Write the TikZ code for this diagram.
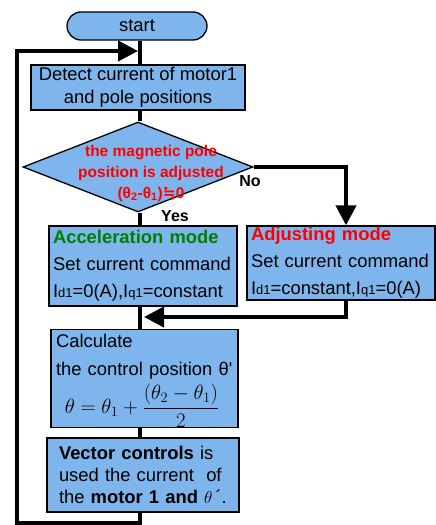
\documentclass[tikz,border=0pt]{standalone}
\usepackage{fontspec}
\setmainfont{Liberation Sans}
\newfontfamily\dejavu{DejaVu Sans}
\usetikzlibrary{shapes.geometric,arrows.meta,calc}
\definecolor{boxblue}{RGB}{126,181,236}
\definecolor{modegreen}{RGB}{0,128,0}
\newcommand{\ix}[1]{{\fontsize{13}{13}\selectfont #1}}

\begin{document}
\begin{tikzpicture}[x=1pt, y=-1pt,
  box/.style={draw, fill=boxblue, line width=1.3pt, inner sep=0pt, font=\fontsize{18.4}{23}\selectfont},
  flow/.style={line width=4pt},
  tip/.style={-{Triangle[length=20pt,width=20pt]}},
  lbl/.style={font=\fontsize{16}{16}\selectfont\bfseries}]

\useasboundingbox (0,0) rectangle (436,525);

\coordinate (spine) at (140,0);
\coordinate (entry) at (138,51);
\coordinate (merge) at (144,317);
\coordinate (loopcorner) at (17,523);

\node[box, rounded corners=14pt, minimum width=140pt, minimum height=28pt] (start) at (137,26) {start};
\node[box, minimum width=214pt, minimum height=45pt, align=center] (detect) at (138,87.5)
  {Detect current of motor1\\and pole positions};

\node[diamond, draw, fill=boxblue, line width=1.3pt, minimum width=230pt, minimum height=90pt, inner sep=0pt] (dec) at (138,167) {};
\node[font=\fontsize{15.5}{21}\selectfont\bfseries, text=red, align=center] (dectxt) at (151,173)
  {the magnetic pole\\position is adjusted\\(θ\textsubscript{2}-θ\textsubscript{1}){\dejavu ≒}0};

\node[box, minimum width=188pt, minimum height=80pt, text width=180pt, align=left, font=\fontsize{18.4}{27}\selectfont] (acc) at (143,266)
  {\textcolor{modegreen}{\bfseries Acceleration mode}\\Set current command\\I\ix{d1}=0(A),I\ix{q1}=constant};
\node[box, minimum width=188pt, minimum height=74pt, text width=180pt, align=left, font=\fontsize{18.4}{27}\selectfont] (adj) at (341,263)
  {\textcolor{red}{\bfseries Adjusting mode}\\Set current command\\I\ix{d1}=constant,I\ix{q1}=0(A)};

\node[box, minimum width=187pt, minimum height=97pt, text width=185pt, align=left, font=\fontsize{18.4}{28}\selectfont] (calc) at (144.5,378.5)
  {\rule{0pt}{18pt}\hspace*{4pt}Calculate\\\hspace*{4pt}the control position θ\textquotesingle\\[3pt]
   \hspace*{13pt}{\fontsize{20}{28}\selectfont$\displaystyle\theta=\theta_1+\frac{(\theta_2-\theta_1)}{2}$}};
\node[box, minimum width=192pt, minimum height=74pt, text width=168pt, align=left, font=\fontsize{18.4}{22}\selectfont] (vec) at (143,475)
  {\textbf{Vector controls} is\\used the current\ \ of\\the \textbf{motor 1 and} $\theta$\,´.};

\node[lbl] (no) at (250,181) {No};
\node[lbl] (yes) at (175,216) {Yes};

\draw[flow] (spine |- start.south) -- (spine |- detect.north);
\draw[flow] (spine |- detect.south) -- (spine |- dec.north);
\draw[flow] (spine |- dec.south) -- (spine |- acc.north);
\draw[flow, tip] (dec.east) -| ($(adj.north)+(5,0)$);
\draw[flow] (spine |- acc.south) -- (spine |- calc.north);
\draw[flow, tip] ($(adj.south)+(5,0)$) |- (merge);
\draw[flow] (spine |- calc.south) -- (spine |- vec.north);
\draw[flow, tip] (spine |- vec.south) |- (loopcorner) |- (entry);
\end{tikzpicture}
\end{document}
